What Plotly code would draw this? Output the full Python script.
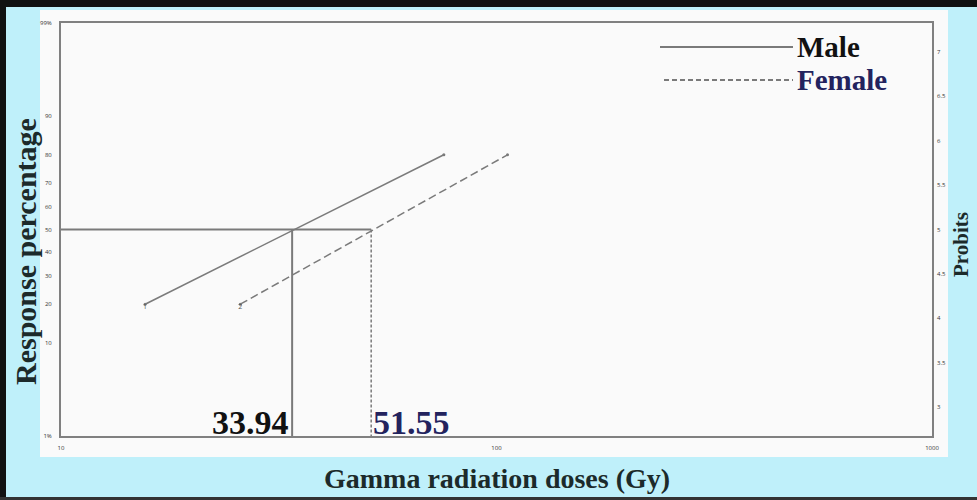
import math
import plotly.graph_objects as go
from statistics import NormalDist

# ---------------- data ----------------
series_names = ["Male", "Female"]
male_dose = [15.6, 75.7]          # Gy
male_pct = [20, 80]               # response %
female_dose = [25.8, 106.0]
female_pct = [20, 80]
ld50_values = [33.94, 51.55]      # Male, Female
ld50_pct = 50
x_ticks = [10, 100, 1000]
x_tick_labels = ["10", "100", "1000"]
pct_ticks = [1, 10, 20, 30, 40, 50, 60, 70, 80, 90, 99]
pct_tick_labels = ["1%", "10", "20", "30", "40", "50", "60", "70", "80", "90", "99%"]
probit_ticks = [3, 3.5, 4, 4.5, 5, 5.5, 6, 6.5, 7]
probit_tick_labels = ["3", "3.5", "4", "4.5", "5", "5.5", "6", "6.5", "7"]

nd = NormalDist()


def probit(p):
    return 5 + nd.inv_cdf(p / 100.0)


LINE = "#7a7a7a"
NAVY = "#23235e"
SERIF = "Liberation Serif, Times New Roman, serif"

fig = go.Figure()

# regression lines
fig.add_trace(go.Scatter(x=male_dose, y=[probit(p) for p in male_pct], mode="lines+markers",
                         line=dict(color=LINE, width=1.5), marker=dict(size=3, color=LINE),
                         showlegend=False, hoverinfo="skip"))
fig.add_trace(go.Scatter(x=female_dose, y=[probit(p) for p in female_pct], mode="lines+markers",
                         line=dict(color=LINE, width=1.5, dash="8px,4px"), marker=dict(size=3, color=LINE),
                         showlegend=False, hoverinfo="skip"))
# small point numbers at line starts
fig.add_trace(go.Scatter(x=[male_dose[0], female_dose[0]],
                         y=[probit(male_pct[0]), probit(female_pct[0])],
                         mode="text", text=["1", "2"], textposition="bottom center",
                         textfont=dict(size=7, color="#555"), showlegend=False, hoverinfo="skip"))

# LD50 reference lines
fig.add_trace(go.Scatter(x=[x_ticks[0], ld50_values[1]], y=[probit(ld50_pct)] * 2, mode="lines",
                         line=dict(color=LINE, width=2), showlegend=False, hoverinfo="skip"))
fig.add_trace(go.Scatter(x=[ld50_values[0]] * 2, y=[probit(ld50_pct), probit(pct_ticks[0])], mode="lines",
                         line=dict(color=LINE, width=2), showlegend=False, hoverinfo="skip"))
fig.add_trace(go.Scatter(x=[ld50_values[1]] * 2, y=[probit(ld50_pct), probit(pct_ticks[0])], mode="lines",
                         line=dict(color=LINE, width=1.5, dash="3px,2px"), showlegend=False, hoverinfo="skip"))

# invisible trace for right probit axis
fig.add_trace(go.Scatter(x=[x_ticks[0]], y=[probit_ticks[0]], yaxis="y2", mode="markers",
                         marker=dict(opacity=0), showlegend=False, hoverinfo="skip"))

# LD50 value labels (log axis -> annotation x in log10 units)
fig.add_annotation(x=math.log10(ld50_values[0]), y=probit(pct_ticks[0]), xref="x", yref="y",
                   text="<b>%.2f</b>" % ld50_values[0], showarrow=False, xanchor="right", yanchor="bottom",
                   xshift=-1, yshift=-7, font=dict(family=SERIF, size=34, color="#111"))
fig.add_annotation(x=math.log10(ld50_values[1]), y=probit(pct_ticks[0]), xref="x", yref="y",
                   text="<b>%.2f</b>" % ld50_values[1], showarrow=False, xanchor="left", yanchor="bottom",
                   xshift=0, yshift=-7, font=dict(family=SERIF, size=34, color=NAVY))

W, H, L, T = 977, 500, 61, 23
PW, PH = 932 - 61, 436 - 23


def px(xp):
    return (xp - L) / PW


def py(yp):
    return (436 - yp) / PH


shapes = []
# background panel
shapes.append(dict(type="rect", xref="paper", yref="paper", x0=px(40), x1=px(948), y0=py(457), y1=py(10),
                   fillcolor="#fafafa", line=dict(width=0), layer="below"))
# black frame
shapes.append(dict(type="rect", xref="paper", yref="paper", x0=px(0), x1=px(977), y0=py(7), y1=py(0),
                   fillcolor="#111", line=dict(width=0), layer="above"))
shapes.append(dict(type="rect", xref="paper", yref="paper", x0=px(0), x1=px(6), y0=py(500), y1=py(0),
                   fillcolor="#111", line=dict(width=0), layer="above"))
shapes.append(dict(type="rect", xref="paper", yref="paper", x0=px(0), x1=px(977), y0=py(500), y1=py(497),
                   fillcolor="#333", line=dict(width=0), layer="above"))
# legend lines
shapes.append(dict(type="line", xref="paper", yref="paper", x0=px(660), x1=px(793), y0=py(47), y1=py(47),
                   line=dict(color=LINE, width=2)))
shapes.append(dict(type="line", xref="paper", yref="paper", x0=px(664), x1=px(793), y0=py(80), y1=py(80),
                   line=dict(color=LINE, width=2, dash="5px,3px")))
fig.update_layout(shapes=shapes)

fig.add_annotation(x=px(795), y=py(47), xref="paper", yref="paper", text="<b>%s</b>" % series_names[0],
                   showarrow=False, xanchor="left", yanchor="middle",
                   font=dict(family=SERIF, size=29, color="#111"))
fig.add_annotation(x=px(795), y=py(80), xref="paper", yref="paper", text="<b>%s</b>" % series_names[1],
                   showarrow=False, xanchor="left", yanchor="middle",
                   font=dict(family=SERIF, size=29, color=NAVY))

# axis titles
fig.add_annotation(x=px(497), y=py(478), xref="paper", yref="paper", text="<b>Gamma radiation doses (Gy)</b>",
                   showarrow=False, xanchor="center", yanchor="middle",
                   font=dict(family=SERIF, size=28, color="#1c2a2a"))
fig.add_annotation(x=px(25), y=py(252), xref="paper", yref="paper", text="<b>Response percentage</b>",
                   showarrow=False, xanchor="center", yanchor="middle", textangle=-90,
                   font=dict(family=SERIF, size=30, color="#1c2a2a"))
fig.add_annotation(x=px(961), y=py(244), xref="paper", yref="paper", text="<b>Probits</b>",
                   showarrow=False, xanchor="center", yanchor="middle", textangle=-90,
                   font=dict(family=SERIF, size=21, color="#1c2a2a"))

axis_common = dict(showgrid=False, zeroline=False, ticks="")
fig.update_layout(
    width=W, height=H, autosize=False,
    margin=dict(l=L, r=W - 932, t=T, b=H - 436),
    paper_bgcolor="#bff0fa", plot_bgcolor="#f3f3f3",
    xaxis=dict(type="log", range=[1, 3], tickvals=x_ticks, ticktext=x_tick_labels,
               tickfont=dict(size=6, color="#333"), showline=True, linecolor="#808080", linewidth=2,
               mirror=True, ticklabelstandoff=5, **axis_common),
    yaxis=dict(range=[probit(pct_ticks[0]), probit(pct_ticks[-1])], tickvals=[probit(p) for p in pct_ticks],
               ticktext=pct_tick_labels, tickfont=dict(size=6, color="#333"), showline=True,
               linecolor="#808080", linewidth=2, mirror=True, ticklabelstandoff=6, **axis_common),
    yaxis2=dict(overlaying="y", side="right", range=[probit(pct_ticks[0]), probit(pct_ticks[-1])],
                tickvals=probit_ticks, ticktext=probit_tick_labels, tickfont=dict(size=6, color="#333"),
                showline=False, ticklabelstandoff=4, **axis_common),
    showlegend=False,
)

fig.write_html("out.html", config={"displayModeBar": False},
               post_script="document.body.style.margin='0';document.body.style.overflow='hidden';")
